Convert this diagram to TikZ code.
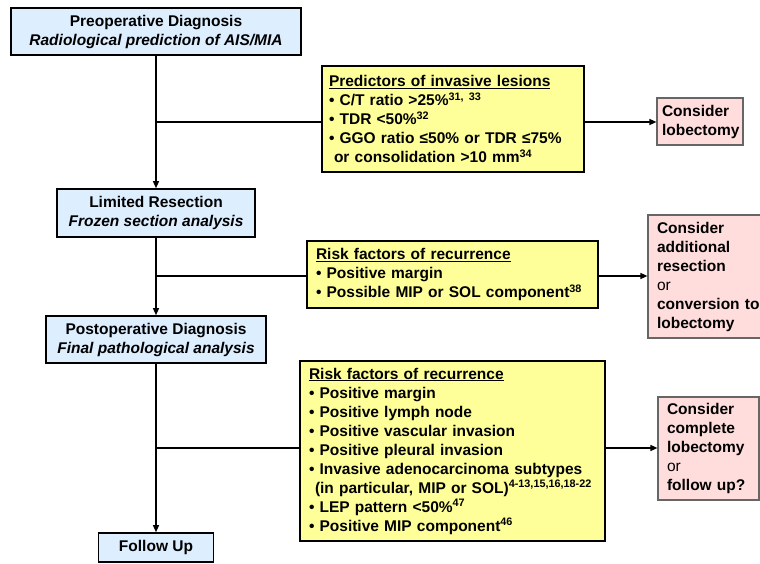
\documentclass[tikz,border=0pt]{standalone}
\usepackage{fontspec}
\setmainfont{Liberation Sans}
\usetikzlibrary{arrows.meta}
\definecolor{boxblue}{HTML}{DDEEFF}
\definecolor{boxyellow}{HTML}{FFFF99}
\definecolor{boxpink}{HTML}{FFDDDD}
\begin{document}
\begin{tikzpicture}[x=1pt,y=-1pt,
  every node/.style={font=\fontsize{15.5}{19}\selectfont\bfseries},
  bluebox/.style={draw=black, line width=1.6pt, fill=boxblue, align=center, inner sep=0pt},
  yelbox/.style={draw=black, line width=1.6pt, fill=boxyellow, align=left, inner ysep=0pt},
  pinkbox/.style={draw=black!60, line width=1.2pt, fill=boxpink, align=left, inner ysep=0pt},
  conn/.style={line width=1.3pt},
  arr/.style={conn, -{Triangle[length=7pt,width=6pt]}}
]
\useasboundingbox (0,0) rectangle (760,564);

% main column
\node[bluebox, minimum width=290pt, minimum height=47pt] (pre) at (156,31.5)
  {Preoperative Diagnosis\\\textit{Radiological prediction of AIS/MIA}};
\node[bluebox, minimum width=198pt, minimum height=48pt] (lim) at (156,213)
  {Limited Resection\\\textit{Frozen section analysis}};
\node[bluebox, minimum width=220pt, minimum height=47pt] (post) at (156,339.5)
  {Postoperative Diagnosis\\\textit{Final pathological analysis}};
\node[bluebox, minimum width=115pt, minimum height=29pt] (fol) at (156,547.5)
  {Follow Up};

% yellow boxes
\node[yelbox, text width=248pt, inner xsep=7pt, minimum height=106pt] (y1) at (453,119)
  {\underline{Predictors of invasive lesions}\\
   • C/T ratio >25\%\textsuperscript{31, 33}\\
   • TDR <50\%\textsuperscript{32}\\
   • GGO ratio ≤50\% or TDR ≤75\%\\
   \hspace*{5pt}or consolidation >10 mm\textsuperscript{34}};
\node[yelbox, text width=273pt, inner xsep=9pt, minimum height=67pt] (y2) at (452.5,274.5)
  {\underline{Risk factors of recurrence}\\
   • Positive margin\\
   • Possible MIP or SOL component\textsuperscript{38}};
\node[yelbox, text width=287pt, inner xsep=9pt, minimum height=180pt] (y3) at (452.5,451)
  {\underline{Risk factors of recurrence}\\
   • Positive margin\\
   • Positive lymph node\\
   • Positive vascular invasion\\
   • Positive pleural invasion\\
   • Invasive adenocarcinoma subtypes\\
   \hspace*{6pt}(in particular, MIP or SOL)\textsuperscript{4-13,15,16,18-22}\\
   • LEP pattern <50\%\textsuperscript{47}\\
   • Positive MIP component\textsuperscript{46}};

% pink boxes
\node[pinkbox, text width=76pt, inner xsep=5pt, minimum height=47pt] (p1) at (700,121.5)
  {Consider\\lobectomy};
\node[pinkbox, text width=107pt, inner xsep=9pt, minimum height=123pt] (p2) at (710.5,276.5)
  {Consider\\additional\\resection\\\textmd{or}\\conversion to\\lobectomy};
\node[pinkbox, text width=83pt, inner xsep=9pt, minimum height=103pt] (p3) at (708.5,448.5)
  {Consider\\complete\\lobectomy\\\textmd{or}\\follow up?};

% branch points
\coordinate (b1) at (156,122);
\coordinate (b2) at (156,276);
\coordinate (b3) at (156,448);

% connectors
\draw[arr] (pre) -- (lim);
\draw[arr] (lim) -- (post);
\draw[arr] (post) -- (fol);
\draw[conn] (b1) -- (b1 -| y1.west);
\draw[conn] (b2) -- (b2 -| y2.west);
\draw[conn] (b3) -- (b3 -| y3.west);
\draw[arr] (y1.east |- b1) -- (p1.west |- b1);
\draw[arr] (y2.east |- b2) -- (p2.west |- b2);
\draw[arr] (y3.east |- b3) -- (p3.west |- b3);
\end{tikzpicture}
\end{document}
